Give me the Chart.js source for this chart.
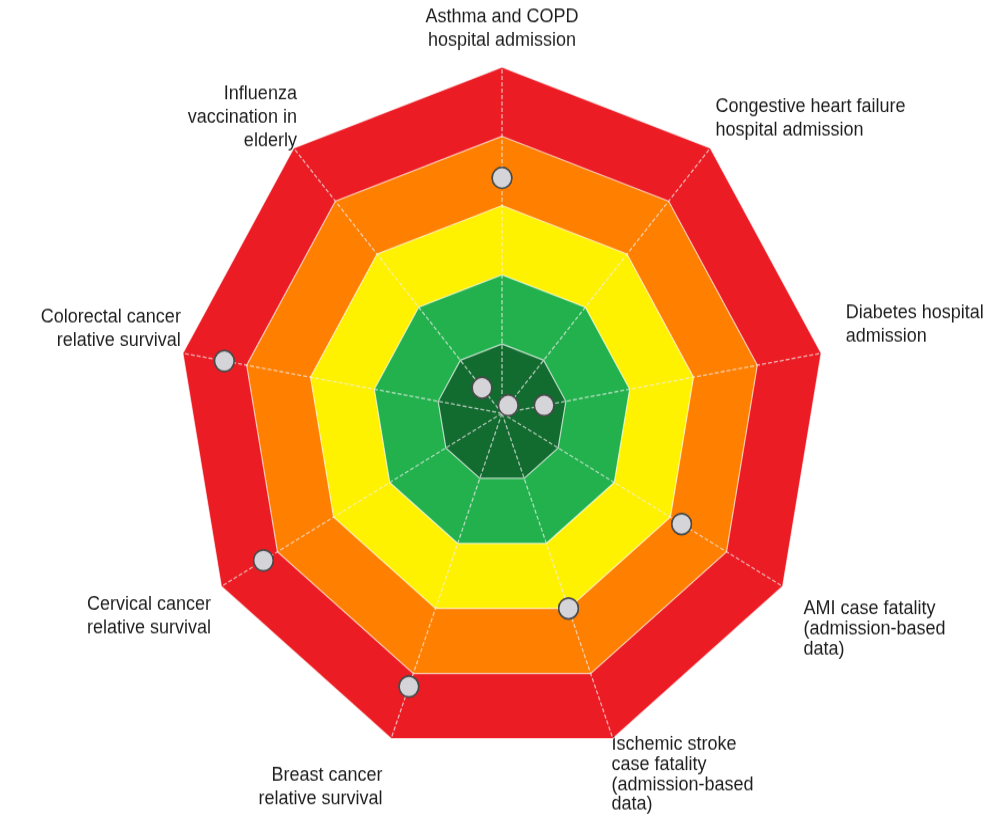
<!DOCTYPE html>
<html>
<head>
<meta charset="utf-8">
<script src="https://cdn.jsdelivr.net/npm/chart.js@4"></script>
<style>
  html, body { margin: 0; padding: 0; background: #fff; overflow: hidden; }
  #wrap { width: 1005px; height: 815px; overflow: hidden; }
  /* the original picture is a little taller than wide, so stretch the chart vertically */
  #myChart { transform: scaleY(1.0682); transform-origin: 0 0; margin-left: 9.5px; margin-top: 2px; }
</style>
</head>
<body>
<div id="wrap"><canvas id="myChart" width="1005" height="764"></canvas></div>
<script>
var labels = [
  ['Asthma and COPD', 'hospital admission'],
  ['Congestive heart failure', 'hospital admission'],
  ['Diabetes hospital', 'admission'],
  ['AMI case fatality', '(admission-based', 'data)'],
  ['Ischemic stroke', 'case fatality', '(admission-based', 'data)'],
  ['Breast cancer', 'relative survival'],
  ['Cervical cancer', 'relative survival'],
  ['Colorectal cancer', 'relative survival'],
  ['Influenza', 'vaccination in', 'elderly']
];

// performance score per indicator (0 = centre, 5 = outer edge)
var scores = [3.4, 0.15, 0.66, 3.2, 3.0, 4.2, 4.25, 4.35, 0.48];

// colour bands, outermost first
var bandLevels = [5, 4, 3, 2, 1];
var bandColors = ['#ec1c24', '#ff7f00', '#fff200', '#22b14c', '#126b2f'];

// label spacing from the outer edge and line spacing, per axis
var labelPad = [14, 8, 25, 24, -4, 25, 12, 2, -5];
var labelLineHeight = [1.22, 1.22, 1.22, 1.04, 1.04, 1.22, 1.22, 1.22, 1.22];

var datasets = [];
for (var b = 0; b < bandLevels.length; b++) {
  datasets.push({
    label: 'band ' + bandLevels[b],
    data: labels.map(function () { return bandLevels[b]; }),
    backgroundColor: bandColors[b],
    borderWidth: 0,
    pointRadius: 0,
    fill: 'origin',
    order: 10 - b
  });
}
datasets.push({
  label: 'Score',
  data: scores,
  showLine: false,
  borderWidth: 0,
  fill: false,
  pointRadius: 9.8,
  pointBackgroundColor: '#d4d4d9',
  pointBorderColor: '#4a4a4a',
  pointBorderWidth: 1.5,
  order: 0
});
var scoreIndex = datasets.length - 1;

// grid lines are drawn above the bands, so paint the score points again on top
var pointsOnTop = {
  id: 'pointsOnTop',
  afterDraw: function (chart) {
    chart.getDatasetMeta(scoreIndex).controller.draw();
  }
};

var ctx = document.getElementById('myChart').getContext('2d');
var chart = new Chart(ctx, {
  type: 'radar',
  data: { labels: labels, datasets: datasets },
  plugins: [pointsOnTop],
  options: {
    responsive: false,
    animation: false,
    devicePixelRatio: 1,
    plugins: { legend: { display: false }, tooltip: { enabled: false } },
    scales: {
      r: {
        min: 0,
        max: 5,
        ticks: { display: false, stepSize: 1 },
        grid: { z: 1, color: 'rgba(255,255,255,0.7)', lineWidth: 1.2, borderDash: [3, 2] },
        angleLines: { color: 'rgba(240,240,240,0.7)', lineWidth: 1.3, borderDash: [4, 2] },
        pointLabels: {
          color: '#1e1e1e',
          padding: function (c) { return labelPad[c.index]; },
          font: function (c) {
            return { family: 'Liberation Sans, Arial, sans-serif', size: 18, lineHeight: labelLineHeight[c.index] };
          }
        }
      }
    }
  }
});
</script>
</body>
</html>
